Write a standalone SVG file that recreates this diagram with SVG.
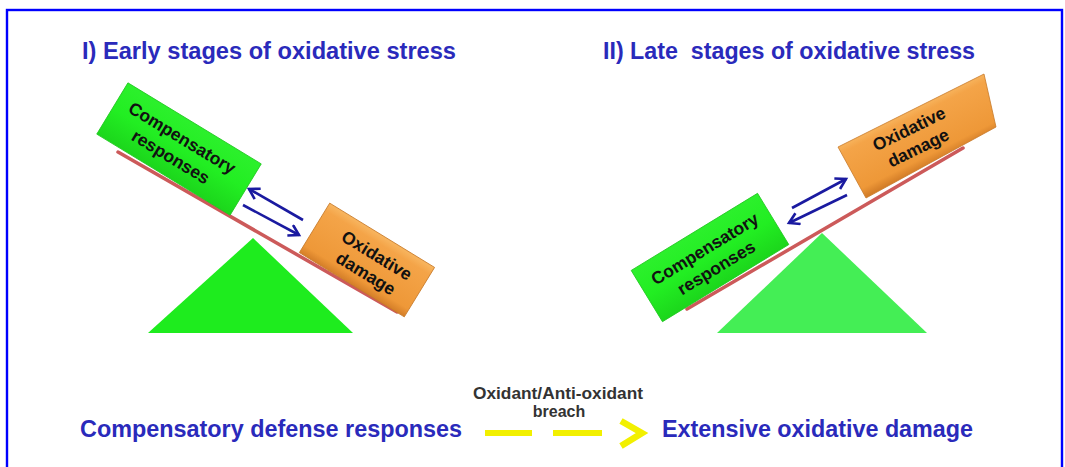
<svg xmlns="http://www.w3.org/2000/svg" width="1065" height="467" viewBox="0 0 1065 467">
  <defs>
    <style>
      .title { font-family: "Liberation Sans", Arial, sans-serif; font-weight: bold; font-size: 23.5px; fill: #2a2abb; }
      .boxt { font-family: "Liberation Sans", Arial, sans-serif; font-weight: bold; font-size: 17.5px; fill: #111111; text-anchor: middle; }
      .mid { font-family: "Liberation Sans", Arial, sans-serif; font-weight: bold; font-size: 16px; fill: #333333; text-anchor: middle; }
      .beam { stroke: #cc5a5a; stroke-width: 3.5; stroke-linecap: round; }
      .arr { stroke: #1a1aa0; stroke-width: 2.6; fill: none; marker-end: url(#head); }
      .yel { fill: #f2f000; }
    </style>
    <linearGradient id="gGreen" x1="0" y1="0" x2="0" y2="1">
      <stop offset="0" stop-color="#2cf02c"/>
      <stop offset="0.5" stop-color="#22ee22"/>
      <stop offset="1" stop-color="#1cd61c"/>
    </linearGradient>
    <linearGradient id="gOrange" x1="0" y1="0" x2="0" y2="1">
      <stop offset="0" stop-color="#f8b660"/>
      <stop offset="0.15" stop-color="#f4a448"/>
      <stop offset="0.85" stop-color="#ee9838"/>
      <stop offset="1" stop-color="#d47e28"/>
    </linearGradient>
    <linearGradient id="gOrangeR" gradientUnits="userSpaceOnUse" x1="908" y1="110" x2="934" y2="162">
      <stop offset="0" stop-color="#f8b660"/>
      <stop offset="0.15" stop-color="#f4a448"/>
      <stop offset="0.85" stop-color="#ee9838"/>
      <stop offset="1" stop-color="#d47e28"/>
    </linearGradient>
    <marker id="head" markerUnits="userSpaceOnUse" markerWidth="16" markerHeight="16" refX="11" refY="7" orient="auto">
      <path d="M1,1 L11,7 L1,13" fill="none" stroke="#1a1aa0" stroke-width="2.6" stroke-linejoin="miter"/>
    </marker>
  </defs>

  <rect x="0" y="0" width="1065" height="467" fill="#ffffff"/>
  <rect x="7" y="10" width="1055" height="480" fill="none" stroke="#0000ff" stroke-width="2.4"/>

  <g id="title-early">
    <text class="title" x="82" y="59" textLength="374" lengthAdjust="spacingAndGlyphs">I) Early stages of oxidative stress</text>
  </g>
  <g id="title-late">
    <text class="title" x="603" y="59" textLength="372" lengthAdjust="spacingAndGlyphs" xml:space="preserve">II) Late  stages of oxidative stress</text>
  </g>

  <!-- Left seesaw -->
  <g id="left-fulcrum">
    <polygon points="253,238 148,333 353,333" fill="#1eec1e"/>
  </g>
  <g id="left-beam">
    <line class="beam" x1="118" y1="152" x2="397" y2="312"/>
  </g>
  <g id="left-compensatory">
    <g transform="translate(179,149) rotate(31.3)">
      <rect x="-78" y="-30" width="156" height="60" fill="url(#gGreen)" stroke="#22c822" stroke-width="0.8"/>
      <text class="boxt" x="-3" y="-5" textLength="122" lengthAdjust="spacingAndGlyphs">Compensatory</text>
      <text class="boxt" x="-3" y="17">responses</text>
    </g>
  </g>
  <g id="left-oxidative">
    <g transform="translate(367,260) rotate(31.5)">
      <rect x="-61.5" y="-29" width="123" height="58" fill="url(#gOrange)" stroke="#c87a2a" stroke-width="0.8"/>
      <text class="boxt" x="6" y="-3">Oxidative</text>
      <text class="boxt" x="6" y="18">damage</text>
    </g>
  </g>

  <!-- Right seesaw -->
  <g id="right-fulcrum">
    <polygon points="822,233 717,333 927,333" fill="#44ee55"/>
  </g>
  <g id="right-beam">
    <line class="beam" x1="687" y1="309" x2="963" y2="148"/>
  </g>
  <g id="right-compensatory">
    <g transform="translate(710,257.5) rotate(-31.4)">
      <rect x="-74" y="-30" width="148" height="60" fill="url(#gGreen)" stroke="#22c822" stroke-width="0.8"/>
      <text class="boxt" x="0" y="-4" textLength="122" lengthAdjust="spacingAndGlyphs">Compensatory</text>
      <text class="boxt" x="0" y="18">responses</text>
    </g>
  </g>
  <g id="right-oxidative">
    <polygon points="838,147 984,74 996,127 866,198" fill="url(#gOrangeR)" stroke="#c87a2a" stroke-width="0.8"/>
    <g transform="translate(913,137) rotate(-26)">
      <text class="boxt" x="0" y="-3">Oxidative</text>
      <text class="boxt" x="0" y="18">damage</text>
    </g>
  </g>

  <g id="connectors">
    <line class="arr" x1="303" y1="220" x2="249" y2="189"/>
    <line class="arr" x1="243" y1="205" x2="299" y2="235"/>
    <line class="arr" x1="792" y1="208" x2="846" y2="179"/>
    <line class="arr" x1="847" y1="195" x2="789" y2="223"/>
  </g>

  <!-- Bottom line -->
  <g id="bottom-left-label">
    <text class="title" x="80" y="437" textLength="382" lengthAdjust="spacingAndGlyphs">Compensatory defense responses</text>
  </g>
  <g id="breach-label">
    <text class="mid" x="558" y="399" textLength="170" lengthAdjust="spacingAndGlyphs">Oxidant/Anti-oxidant</text>
    <text class="mid" x="559" y="417">breach</text>
  </g>
  <g id="breach-arrow">
    <rect class="yel" x="485" y="430" width="47" height="6"/>
    <rect class="yel" x="553" y="430" width="49" height="6"/>
    <polyline points="621,421 642,433 621,446" fill="none" stroke="#f2f000" stroke-width="6.5" stroke-linejoin="miter" stroke-miterlimit="10"/>
  </g>
  <g id="bottom-right-label">
    <text class="title" x="662" y="437" textLength="311" lengthAdjust="spacingAndGlyphs">Extensive oxidative damage</text>
  </g>
</svg>
